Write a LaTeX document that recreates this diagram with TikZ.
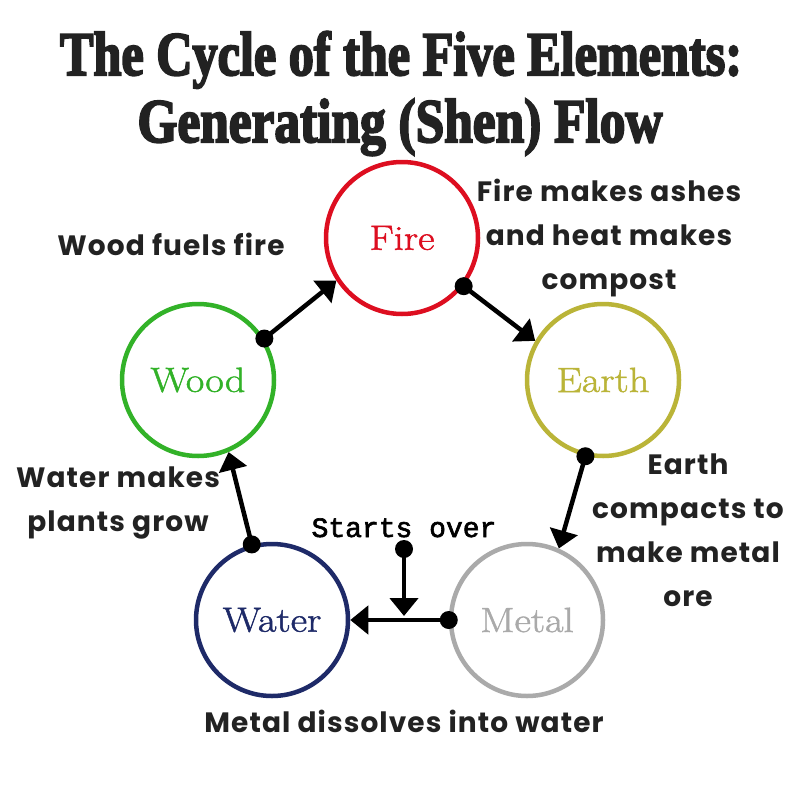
\documentclass[tikz,border=0pt]{standalone}
\usepackage{fontspec}
\usepackage{graphicx}
\usetikzlibrary{arrows.meta}
\newfontfamily\lblfont{Poppins}[LetterSpace=4]
\newfontfamily\ttlfont{Liberation Serif}[BoldFeatures={FakeBold=3.5}]
\newfontfamily\somono{Liberation Mono}[FakeBold=2.2]
\newfontfamily\elemfont{Latin Modern Roman}[FakeBold=1.4, FakeStretch=1.15]
\definecolor{fireRed}{RGB}{221,14,32}
\definecolor{woodGreen}{RGB}{50,178,40}
\definecolor{earthOlive}{RGB}{186,180,56}
\definecolor{waterNavy}{RGB}{30,42,104}
\definecolor{metalGray}{RGB}{170,170,170}
\definecolor{textDark}{RGB}{34,34,34}
\begin{document}
\begin{tikzpicture}[x=1pt,y=-1pt,
  elem/.style={circle, draw, line width=4.5pt, minimum size=152pt, inner sep=0pt,
    font=\elemfont\fontsize{35}{40}\selectfont},
  arr/.style={line width=4.5pt, -{Triangle[width=28pt,length=18pt]}, black},
  dotfill/.style={fill=black},
  lbl/.style={align=center, text=textDark, inner sep=0pt,
    font=\lblfont\bfseries\fontsize{28}{44}\selectfont},
  ttl/.style={anchor=base, inner sep=0pt, text=textDark,
    font=\ttlfont\bfseries\fontsize{62}{70}\selectfont}]
\useasboundingbox (0,0) rectangle (800,800);
\fill[white] (0,0) rectangle (800,800);
% title
\node[ttl] (t1) at (401,75) {\resizebox{682pt}{\height}{The Cycle of the Five Elements:}};
\node[ttl] (t2) at (400,142) {\resizebox{525pt}{\height}{Generating (Shen) Flow}};
% elements
\node[elem, draw=fireRed, text=fireRed] (fire) at (402,238) {Fire};
\node[elem, draw=woodGreen, text=woodGreen] (wood) at (198,380) {Wood};
\node[elem, draw=earthOlive, text=earthOlive] (earth) at (603,380) {Earth};
\node[elem, draw=waterNavy, text=waterNavy] (water) at (272,620) {Water};
\node[elem, draw=metalGray, text=metalGray] (metal) at (527,620) {Metal};
% connectors
\draw[arr] (wood.32) -- (fire.213);
\fill[dotfill] (wood.32) circle (9pt);
\draw[arr] (fire.-38) -- (earth.150);
\fill[dotfill] (fire.-38) circle (9pt);
\draw[arr] (earth.257) -- (metal.66);
\fill[dotfill] (earth.257) circle (9pt);
\draw[arr] (metal.180) -- (water.0);
\fill[dotfill] (metal.180) circle (9pt);
\draw[arr] (water.105) -- (wood.293);
\fill[dotfill] (water.105) circle (9pt);
% starts over
\node[anchor=base, inner sep=0pt, text=black, font=\somono\fontsize{28}{32}\selectfont] (so) at (404,537) {Starts over};
\coordinate (sodot) at (404,549);
\coordinate (join) at (404,616);
\draw[arr] (sodot) -- (join);
\fill[dotfill] (sodot) circle (9pt);
% labels
\node[lbl] (lfire) at (609,238) {Fire makes ashes\\and heat makes\\compost};
\node[lbl] (lwood) at (171,244) {Wood fuels fire};
\node[lbl] (learth) at (688,530) {Earth\\compacts to\\make metal\\ore};
\node[lbl] (lwater) at (118,503) {Water makes\\plants grow};
\node[lbl] (lmetal) at (404,721) {Metal dissolves into water};
\end{tikzpicture}
\end{document}
